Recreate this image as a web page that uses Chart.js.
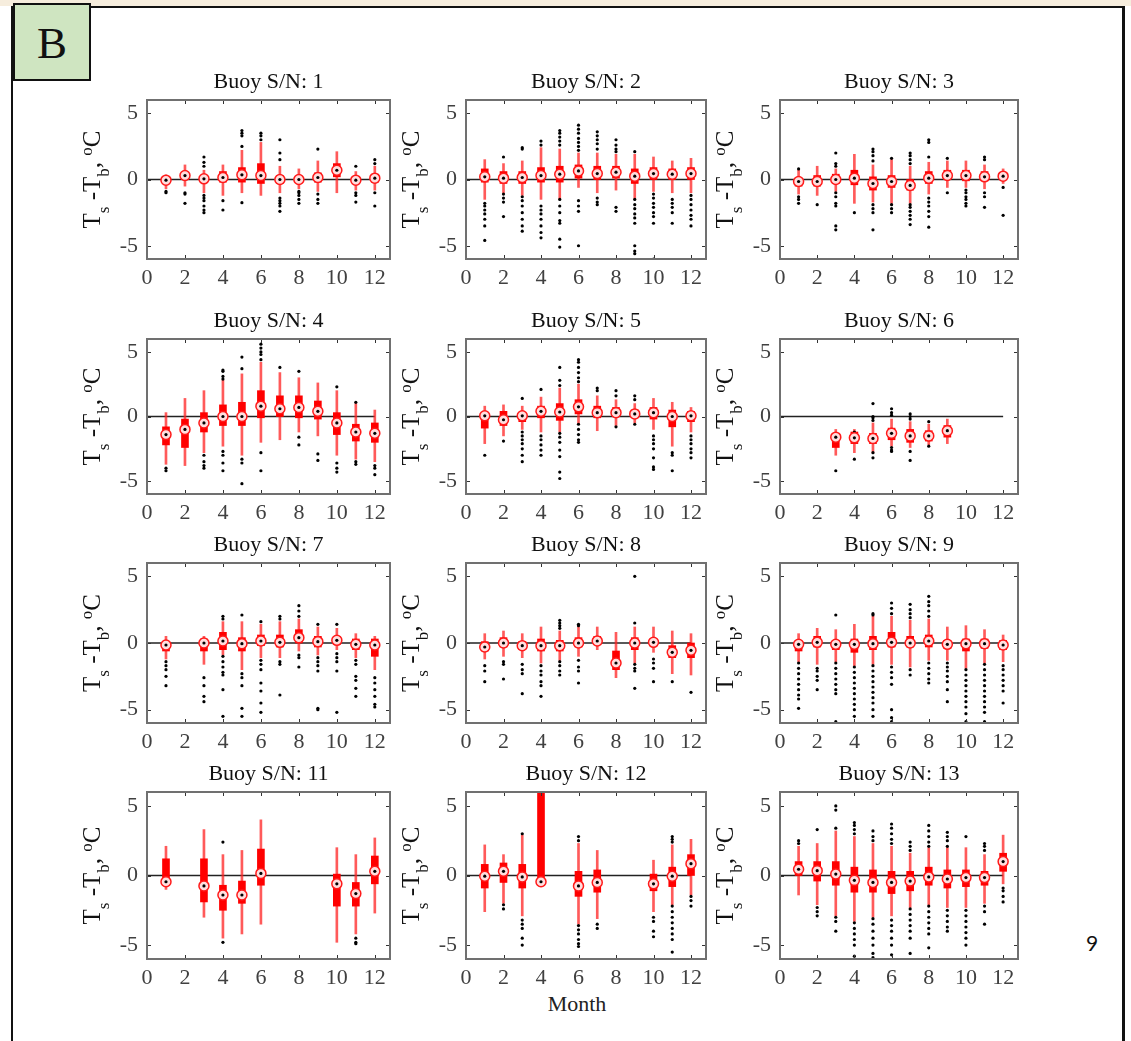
<!DOCTYPE html>
<html>
<head>
<meta charset="utf-8">
<script src="https://cdn.jsdelivr.net/npm/chart.js@4.4.1/dist/chart.umd.min.js"></script>
<style>
  body { margin: 0; width: 1131px; height: 1041px; position: relative; background: #fff; overflow: hidden; font-family: 'Liberation Serif', serif; }
  #topStrip { position: absolute; left: 0; top: 0; width: 1131px; height: 6px; background: #f6eddd; }
  #frame { position: absolute; left: 11px; top: 6px; width: 1114px; height: 1040px; border-top: 2px solid #111; border-left: 2px solid #111; border-right: 3px solid #111; box-sizing: border-box; }
  #panelTag { position: absolute; left: 13px; top: 3px; width: 78px; height: 78px; background: #cfe5c1; border: 2px solid #111; box-sizing: border-box; font-size: 45px; text-align: center; line-height: 76px; color: #111; }
  #monthLabel { position: absolute; left: 537px; top: 991px; width: 80px; text-align: center; font-size: 22px; color: #222; }
  #pageNo { position: absolute; left: 1086px; top: 930px; font-family: Lato, 'DejaVu Sans', sans-serif; font-size: 21px; color: #111; }
  canvas { position: absolute; }
</style>
</head>
<body>
<div id="topStrip"></div>
<div id="frame"></div>
<div id="panelTag">B</div>
<div id="monthLabel">Month</div>
<div id="pageNo">9</div>
<script>
// Monthly distribution of Ts - Tb per buoy (box = quartiles, line = whiskers, dots = outliers)
const buoyIds = [1, 2, 3, 4, 5, 6, 7, 8, 9, 11, 12, 13];
const months = [1, 2, 3, 4, 5, 6, 7, 8, 9, 10, 11, 12];
const xTicks = [0, 2, 4, 6, 8, 10, 12];
const yTicks = [-5, 0, 5];

const medians = [
  [-0.05, 0.3, 0.05, 0.15, 0.35, 0.3, 0.0, 0.0, 0.15, 0.7, -0.05, 0.1],
  [0.2, 0.1, 0.15, 0.3, 0.4, 0.65, 0.45, 0.55, 0.25, 0.45, 0.4, 0.45],
  [-0.15, -0.15, 0.0, 0.1, -0.3, -0.15, -0.45, 0.1, 0.3, 0.3, 0.2, 0.25],
  [-1.4, -1.0, -0.5, 0.0, 0.0, 0.8, 0.6, 0.7, 0.4, -0.5, -1.2, -1.3],
  [0.05, -0.25, 0.05, 0.4, 0.35, 0.75, 0.3, 0.3, 0.2, 0.3, 0.0, 0.05],
  [null, null, -1.6, -1.65, -1.7, -1.3, -1.5, -1.5, -1.1, null, null, null],
  [-0.15, null, 0.0, 0.15, -0.05, 0.15, 0.05, 0.4, 0.1, 0.2, -0.1, -0.15],
  [-0.3, 0.0, -0.2, -0.2, -0.2, 0.0, 0.15, -1.5, 0.0, 0.05, -0.7, -0.55],
  [-0.1, 0.05, -0.1, -0.1, -0.05, 0.05, 0.0, 0.15, -0.1, -0.05, -0.05, -0.15],
  [-0.45, null, -0.75, -1.4, -1.4, 0.15, null, null, null, -0.6, -1.3, 0.3],
  [-0.05, 0.3, -0.1, -0.45, null, -0.75, -0.5, null, null, -0.6, -0.05, 0.85],
  [0.45, 0.35, 0.1, -0.35, -0.5, -0.5, -0.4, -0.1, -0.25, -0.15, -0.15, 1.0]
];

const lowerQuartiles = [
  [-0.25, 0.0, -0.2, -0.2, -0.2, -0.3, -0.3, -0.2, -0.2, 0.2, -0.3, -0.2],
  [-0.2, -0.3, -0.3, -0.2, -0.2, 0.1, 0.0, 0.1, -0.3, 0.0, 0.0, 0.0],
  [-0.5, -0.5, -0.3, -0.4, -0.8, -0.6, -0.8, -0.3, 0.0, -0.1, -0.1, 0.0],
  [-2.2, -2.4, -1.2, -0.7, -0.7, -0.1, 0.0, -0.1, -0.2, -1.4, -1.9, -2.0],
  [-0.9, -0.7, -0.4, -0.1, -0.3, 0.2, -0.1, 0.0, -0.1, -0.2, -0.8, -0.4],
  [null, null, -2.4, -2.1, -2.1, -1.8, -2.0, -1.9, -1.6, null, null, null],
  [-0.6, null, -0.6, -0.5, -0.6, -0.2, -0.3, 0.0, -0.3, -0.1, -0.5, -1.0],
  [-0.6, -0.3, -0.5, -0.6, -0.6, -0.3, -0.1, -2.0, -0.5, -0.2, -1.1, -1.1],
  [-0.6, -0.3, -0.5, -0.7, -0.5, -0.3, -0.3, -0.3, -0.4, -0.6, -0.4, -0.5],
  [-0.7, null, -1.9, -2.5, -2.0, -0.7, null, null, null, -2.2, -2.2, -0.6],
  [-0.9, -0.5, -0.9, -0.7, null, -1.5, -1.2, null, null, -1.1, -0.8, 0.0],
  [0.0, -0.4, -0.7, -1.2, -1.2, -1.3, -1.1, -0.7, -0.9, -0.8, -0.7, 0.3]
];

const upperQuartiles = [
  [0.15, 0.5, 0.3, 0.6, 0.9, 1.2, 0.3, 0.2, 0.5, 1.2, 0.2, 0.4],
  [0.8, 0.6, 0.6, 0.9, 1.0, 1.1, 1.0, 1.0, 0.8, 0.9, 0.8, 0.9],
  [0.1, 0.3, 0.4, 0.7, 0.2, 0.3, 0.0, 0.6, 0.7, 0.7, 0.6, 0.5],
  [-0.8, -0.2, 0.3, 0.9, 1.1, 2.0, 1.6, 1.6, 1.2, 0.3, -0.6, -0.5],
  [0.3, 0.4, 0.3, 0.8, 1.0, 1.3, 0.8, 0.7, 0.5, 0.7, 0.5, 0.4],
  [null, null, -1.4, -1.2, -1.3, -0.9, -1.0, -1.1, -0.7, null, null, null],
  [0.1, null, 0.3, 0.8, 0.4, 0.6, 0.6, 1.0, 0.5, 0.5, 0.3, 0.3],
  [0.1, 0.4, 0.1, 0.3, 0.2, 0.4, 0.5, -0.6, 0.4, 0.3, -0.2, 0.0],
  [0.1, 0.5, 0.2, 0.3, 0.5, 0.8, 0.5, 0.6, 0.2, 0.3, 0.3, 0.2],
  [1.2, null, 1.2, -0.7, -0.4, 1.9, null, null, null, 0.1, -0.5, 1.4],
  [0.8, 0.9, 0.8, 7.0, null, 0.3, 0.4, null, null, 0.1, 0.6, 1.5],
  [1.0, 1.0, 1.0, 0.6, 0.4, 0.3, 0.3, 0.6, 0.4, 0.4, 0.3, 1.6]
];

const whiskerLows = [
  [-0.7, -0.5, -1.0, -1.2, -1.0, -1.2, -1.0, -0.7, -0.9, -1.0, -0.8, -0.8],
  [-1.5, -1.0, -1.2, -1.5, -1.5, -0.6, -1.0, -0.8, -1.5, -0.9, -1.0, -1.0],
  [-1.1, -1.2, -0.9, -1.8, -1.7, -1.8, -1.8, -1.1, -0.6, -0.6, -0.7, -0.3],
  [-3.7, -3.8, -2.8, -2.3, -3.0, -2.0, -1.8, -1.2, -1.5, -3.0, -3.3, -3.5],
  [-2.1, -1.5, -1.0, -1.2, -1.2, -0.6, -1.1, -0.7, -0.5, -1.0, -2.3, -1.2],
  [null, null, -3.0, -2.8, -2.8, -2.3, -2.4, -2.2, -2.1, null, null, null],
  [-1.2, null, -1.6, -0.9, -2.0, -1.1, -1.1, -0.6, -0.9, -0.5, -1.1, -2.0],
  [-1.2, -1.0, -1.1, -1.5, -1.3, -1.0, -0.5, -2.6, -1.5, -0.7, -2.3, -2.4],
  [-1.4, -1.6, -1.4, -1.7, -1.6, -1.6, -1.8, -1.3, -1.3, -1.9, -1.5, -1.4],
  [-1.0, null, -3.0, -4.5, -4.2, -3.5, null, null, null, -4.8, -4.2, -2.7],
  [-2.6, -2.0, -2.9, -0.7, null, -3.5, -3.1, null, null, -2.6, -2.1, -1.4],
  [-1.4, -2.1, -2.9, -3.3, -3.0, -2.9, -2.3, -2.1, -2.3, -2.3, -2.0, -0.6]
];

const whiskerHighs = [
  [0.35, 1.1, 0.7, 1.1, 2.2, 2.8, 1.0, 0.8, 1.4, 2.1, 0.6, 1.0],
  [1.5, 1.2, 1.4, 2.4, 2.3, 2.0, 2.0, 1.9, 1.9, 1.7, 1.4, 1.6],
  [0.7, 1.0, 0.8, 1.9, 1.1, 1.5, 1.0, 1.3, 1.4, 1.4, 1.1, 0.8],
  [0.3, 1.4, 2.0, 2.8, 3.3, 4.2, 3.4, 3.0, 2.6, 2.0, 1.0, 0.5],
  [0.8, 0.9, 0.8, 1.5, 2.2, 2.5, 1.6, 1.3, 1.0, 1.4, 1.1, 0.7],
  [null, null, -1.0, -1.0, -0.5, -0.2, -0.4, -0.6, -0.2, null, null, null],
  [0.5, null, 0.5, 1.6, 1.6, 1.4, 1.6, 1.8, 1.2, 1.1, 0.7, 0.5],
  [0.7, 0.9, 0.7, 1.2, 0.9, 1.2, 1.2, 0.8, 1.2, 1.2, 0.9, 0.7],
  [0.7, 1.1, 1.0, 1.4, 2.0, 2.0, 1.7, 1.8, 1.2, 1.3, 1.0, 0.6],
  [2.1, null, 3.3, 1.5, 1.8, 4.0, null, null, null, 2.0, 1.5, 2.7],
  [2.2, 1.5, 2.9, 7.0, null, 2.3, 1.8, null, null, 1.1, 2.2, 2.6],
  [2.1, 2.3, 3.2, 2.8, 2.3, 2.1, 1.6, 2.0, 2.0, 2.0, 1.5, 2.9]
];

const outliers = [
  [[-0.9, -1.0], [-1.0, -1.1, -1.8], [1.0, 1.3, 1.7, -1.2, -1.4, -1.6, -2.0, -2.3, -2.5], [-1.6, -2.3],
   [2.5, 3.3, 3.5, 3.7, -1.75], [3.0, 3.3, 3.5], [1.5, 2.0, 3.0, -1.4, -1.6, -1.8, -2.0, -2.4], [-0.9, -1.0, -1.2, -1.5, -1.8],
   [2.3, -1.1, -1.5, -1.8], [], [1.0, -1.0, -1.2, -1.7], [1.2, 1.5, -1.0, -2.0]],
  [[-1.8, -2.0, -2.3, -2.6, -3.0, -3.5, -4.6], [1.7, -1.1, -1.4, -1.7, -2.8], [2.3, 2.4, -1.3, -1.6, -2.0, -2.5, -3.0, -3.5, -3.9],
   [2.6, 2.9, -2.0, -2.3, -2.6, -3.0, -3.5, -4.0, -4.4], [2.6, 2.9, 3.2, 3.5, 3.7, -1.5, -2.0, -2.5, -3.1, -3.3, -4.5, -5.1],
   [2.2, 2.5, 2.8, 3.1, 3.5, 3.8, 4.1, -1.6, -2.0, -2.4, -5.0], [2.3, 2.7, 3.0, 3.3, 3.6, -1.4, -1.7, -1.9],
   [2.1, 2.3, 2.6, 3.0, -2.1, -2.4], [2.1, -1.5, -1.9, -2.2, -2.6, -2.9, -3.3, -5.0, -5.4, -5.6],
   [-1.1, -1.4, -1.8, -2.1, -2.5, -2.8, -3.3, -6.0], [-1.5, -1.8, -2.1, -2.5, -3.3], [-1.2, -1.5, -1.9, -2.3, -2.7, -3.0, -3.5]],
  [[0.8, -1.3, -1.5, -1.8], [-1.9], [1.0, 1.2, 2.0, -1.0, -1.3, -1.8, -2.0, -3.5, -3.8], [-2.5],
   [1.4, 1.8, 2.1, 2.3, -1.9, -2.2, -2.5, -3.8], [1.6, -1.9, -2.2, -2.5], [1.2, 1.5, 1.8, 2.0, -1.9, -2.1, -2.4, -2.7, -3.0, -3.4],
   [1.7, 2.8, 3.0, -1.4, -1.7, -2.0, -2.4, -2.8, -3.6], [1.6, -1.0], [-0.8, -1.0, -1.3, -1.5, -1.8, -2.0],
   [1.5, 1.7, -1.0, -1.3, -2.1], [-0.6, -2.7]],
  [[-4.0, -4.2], [], [-3.0, -3.5, -3.8, -4.0], [2.9, 3.1, 3.5, 3.6, -2.7, -3.0, -3.6, -4.2], [3.7, 4.6, -3.3, -3.6, -5.2],
   [4.4, 4.8, 5.0, 5.3, 5.6, -2.8, -4.2], [3.8], [3.5, -1.6, -2.2], [-2.9, -3.4], [2.3, -3.6, -4.0, -4.3], [1.1, -3.5, -3.7],
   [-3.8, -4.0, -4.5]],
  [[-3.0], [-1.9], [1.4, -1.2, -1.5, -1.8, -2.1, -2.5, -3.0, -3.5], [2.1, -1.5, -1.8, -2.2, -2.6, -3.0],
   [2.4, 2.8, 3.8, -1.3, -1.6, -2.0, -2.6, -3.1, -4.3, -4.8], [2.7, 3.0, 3.4, 3.8, 4.2, 4.4, -0.6, -1.0, -1.4, -1.8, -2.0],
   [2.0, 2.2], [1.6, 2.0, -0.8], [1.3, 1.6, -0.6], [-1.5, -1.8, -2.1, -2.5, -3.2, -3.9, -4.1], [-2.8, -3.0, -4.2],
   [-1.5, -1.8, -2.1, -2.5, -2.8, -3.2]],
  [[], [], [-4.2], [-1.2, -1.4, -3.3], [-0.3, -0.1, 0.0, 1.0, -2.8, -3.2], [0.1, 0.3, 0.6, -2.4, -2.6, -2.7],
   [-0.2, 0.0, 0.2, -2.7, -3.4], [-0.4, -2.3], [], [], [], []],
  [[-1.4, -1.7, -2.0, -2.5, -3.2], [], [-2.6, -3.2, -4.0, -4.4], [1.8, 2.0, -1.0, -1.4, -1.8, -2.2, -2.4, -3.5, -5.5],
   [2.1, -2.3, -2.6, -3.2, -4.9, -5.5], [1.6, -1.3, -1.6, -2.0, -3.0, -3.6, -4.5, -5.2], [1.8, 2.0, -1.4, -1.6, -3.9],
   [2.0, 2.4, 2.8, -0.9, -1.1, -1.8], [1.4, -1.1, -1.4, -1.7, -2.1, -4.9, -5.0], [1.4, -0.8, -1.1, -1.4, -2.1, -5.2],
   [-1.3, -1.6, -2.5, -2.8, -3.4, -4.0], [-2.6, -3.0, -3.5, -4.0, -4.6, -4.8]],
  [[-1.7, -2.1, -2.9], [-1.4, -1.6, -2.7], [-1.6, -2.0, -2.3, -3.8], [-1.7, -2.1, -2.4, -2.9, -3.2, -4.0],
   [1.1, 1.3, 1.5, 1.7, -1.4, -1.7, -2.1, -2.4], [1.3, 1.4, -1.3, -1.8, -2.1, -3.0], [], [],
   [1.5, 5.0, -1.6, -1.9, -2.1, -3.4], [-1.2, -1.5, -1.9, -2.9], [-2.9], [-3.7]],
  [[-1.5, -1.9, -2.3, -2.7, -3.1, -3.5, -3.9, -4.2, -4.9], [-1.9, -2.1, -2.5, -2.8, -3.5],
   [2.1, -1.5, -1.9, -2.3, -2.7, -3.1, -3.5, -3.8, -5.9], [-1.8, -2.2, -2.6, -3.0, -3.4, -3.8, -4.2, -4.6, -5.0, -5.5],
   [2.1, 2.2, -1.7, -2.1, -2.5, -2.9, -3.3, -3.7, -4.1, -4.5, -5.0, -5.5], [2.2, 2.6, 3.0, -1.8, -2.2, -2.6, -3.1, -5.0, -5.6, -5.9],
   [1.9, 2.2, 2.5, 2.9, -2.0, -2.4], [2.0, 2.4, 2.8, 3.1, 3.5, -1.5, -1.9, -2.3, -2.7, -3.0],
   [-1.5, -1.8, -2.1, -2.5, -2.9, -3.5, -4.4], [-2.0, -2.4, -2.8, -3.2, -3.6, -4.0, -4.4, -4.8, -5.3, -5.9],
   [-1.6, -2.0, -2.4, -2.8, -3.2, -3.6, -4.0, -4.4, -4.8, -5.2, -5.9], [-1.7, -2.0, -2.4, -2.8, -3.2, -3.6, -4.5]],
  [[], [], [], [2.4, -4.8], [], [], [], [], [], [], [-4.5, -4.8, -4.9], []],
  [[], [-2.1, -2.4], [3.0, -3.2, -3.5, -3.8, -4.5, -5.0], [], [], [2.5, 2.8, -3.6, -3.9, -4.2, -4.6, -4.9, -5.1],
   [-3.5, -3.8], [], [], [-3.0, -3.3, -4.0, -4.4], [2.4, 2.6, 2.8, -2.2, -2.6, -3.0, -3.4, -3.8, -4.2, -4.6, -5.5],
   [-1.5, -1.8, -2.2]],
  [[2.3, 2.5], [3.3, -2.3, -2.6, -2.9], [3.4, 4.7, 5.0, -3.0, -3.3, -4.0],
   [3.0, 3.3, 3.6, 3.8, -3.4, -3.8, -4.2, -4.6, -5.0, -5.8], [2.5, 2.8, 3.2, -3.1, -3.5, -4.0, -4.5, -5.0, -5.6, -5.9],
   [2.3, 2.6, 3.0, 3.4, 3.7, -3.2, -3.6, -4.0, -4.5, -5.0, -5.7], [1.8, 2.1, 2.4, -2.4, -2.8, -3.2, -3.6, -4.0, -4.5, -5.6],
   [2.1, 2.4, 2.8, 3.2, 3.6, -2.2, -2.6, -3.0, -3.4, -3.8, -4.2, -5.2], [2.1, 2.5, 2.8, 3.1, -2.5, -2.9, -3.3, -3.7, -4.0],
   [2.8, -2.5, -2.9, -3.3, -3.7, -4.1, -4.5, -5.0], [1.8, 2.1, 2.3, -2.2, -2.6, -3.5], [-0.9, -1.1, -1.5, -1.9]]
];

// panel placement on the page (plot area of each small chart)
const colLeft = [147, 466, 780];
const colWidth = [243, 240, 238];
const rowTop = [100, 339, 563, 792];
const rowHeight = [159, 155, 160, 167];
const PAD_L = 80, PAD_T = 36, PAD_R = 12, AXIS_W = 50, AXIS_H = 40;

const SERIF = '"Liberation Serif", "Times New Roman", serif';

// y-axis title pieces: text, baseline shift, font size
const yLabelParts = [
  ['T', 0, 25], ['s', 9, 17], [' -T', 0, 25], ['b', 9, 17], [', ', 0, 25], ['o', -8, 17], ['C', 0, 25]
];

function drawYLabel(ctx, x, y) {
  ctx.save();
  ctx.translate(x, y);
  ctx.rotate(-Math.PI / 2);
  ctx.fillStyle = '#111';
  ctx.textBaseline = 'alphabetic';
  ctx.textAlign = 'left';
  let total = 0;
  yLabelParts.forEach(([t, , s]) => { ctx.font = `${s}px ${SERIF}`; total += ctx.measureText(t).width; });
  let pos = -total / 2;
  yLabelParts.forEach(([t, shift, s]) => {
    ctx.font = `${s}px ${SERIF}`;
    ctx.fillText(t, pos, shift);
    pos += ctx.measureText(t).width;
  });
  ctx.restore();
}

const panelFrame = {
  id: 'panelFrame',
  afterDatasetsDraw(chart, args, opts) {
    const { ctx, chartArea: a, scales: { x, y } } = chart;
    ctx.save();
    ctx.strokeStyle = '#333';
    ctx.lineWidth = 1;
    ctx.beginPath();
    xTicks.forEach(v => {
      const px = Math.round(x.getPixelForValue(v)) + 0.5;
      ctx.moveTo(px, a.bottom); ctx.lineTo(px, a.bottom - 4);
      ctx.moveTo(px, a.top); ctx.lineTo(px, a.top + 4);
    });
    yTicks.forEach(v => {
      const py = Math.round(y.getPixelForValue(v)) + 0.5;
      ctx.moveTo(a.left, py); ctx.lineTo(a.left + 4, py);
      ctx.moveTo(a.right, py); ctx.lineTo(a.right - 4, py);
    });
    ctx.stroke();
    ctx.strokeStyle = '#707070';
    ctx.lineWidth = 2;
    ctx.strokeRect(a.left, a.top, a.right - a.left, a.bottom - a.top);

    ctx.fillStyle = '#111';
    ctx.font = `22px ${SERIF}`;
    ctx.textAlign = 'center';
    ctx.textBaseline = 'middle';
    ctx.fillText(opts.title, (a.left + a.right) / 2, a.top - 18);

    drawYLabel(ctx, a.left - 47, (a.top + a.bottom) / 2);
    ctx.restore();
  }
};

function present(p) {
  return months.map((m, i) => i).filter(i => medians[p][i] !== null);
}

buoyIds.forEach((id, p) => {
  const row = Math.floor(p / 3), col = p % 3;
  const w = PAD_L + colWidth[col] + PAD_R;
  const h = PAD_T + rowHeight[row] + AXIS_H;
  const canvas = document.createElement('canvas');
  canvas.width = w;
  canvas.height = h;
  canvas.style.left = (colLeft[col] - PAD_L) + 'px';
  canvas.style.top = (rowTop[row] - PAD_T) + 'px';
  canvas.style.width = w + 'px';
  canvas.style.height = h + 'px';
  document.body.appendChild(canvas);

  const idx = present(p);
  const whiskers = idx.map(i => ({ x: months[i], y: [whiskerLows[p][i], whiskerHighs[p][i]] }));
  const boxes = idx.map(i => ({ x: months[i], y: [lowerQuartiles[p][i], upperQuartiles[p][i]] }));
  const mids = idx.map(i => ({ x: months[i], y: medians[p][i] }));
  const dots = [];
  outliers[p].forEach((list, i) => list.forEach(v => dots.push({ x: months[i], y: v })));

  new Chart(canvas, {
    type: 'bar',
    data: {
      datasets: [
        { type: 'line', data: [{ x: 0, y: 0 }, { x: 12, y: 0 }], borderColor: '#222', borderWidth: 1.5,
          pointRadius: 0, order: 10 },
        { data: whiskers, backgroundColor: 'rgba(255, 35, 35, 0.75)', barThickness: 2, grouped: false,
          borderWidth: 0, order: 8 },
        { data: boxes, backgroundColor: '#ff0000', barThickness: 7, grouped: false, borderWidth: 0, order: 6 },
        { type: 'scatter', data: dots, pointRadius: 1.6, pointBackgroundColor: '#000', pointBorderWidth: 0, order: 4 },
        { type: 'scatter', data: mids, pointRadius: 5, pointBackgroundColor: '#ffdede', pointBorderColor: '#ff1a1a',
          pointBorderWidth: 1.5, order: 2 },
        { type: 'scatter', data: mids, pointRadius: 1.6, pointBackgroundColor: '#000', pointBorderWidth: 0, order: 0 }
      ]
    },
    options: {
      responsive: false,
      animation: false,
      events: [],
      layout: { padding: { left: PAD_L - AXIS_W, top: PAD_T, right: PAD_R, bottom: 0 } },
      plugins: { legend: { display: false }, tooltip: { enabled: false }, panelFrame: { title: 'Buoy S/N: ' + id } },
      scales: {
        x: {
          type: 'linear', min: 0, max: 12.8, offset: false,
          grid: { display: false, drawTicks: false },
          border: { display: false },
          afterBuildTicks: s => { s.ticks = xTicks.map(v => ({ value: v })); },
          afterFit: s => { s.height = AXIS_H; },
          ticks: { font: { family: SERIF, size: 22 }, color: '#404040', padding: 6, maxRotation: 0 }
        },
        y: {
          min: -6, max: 6,
          grid: { display: false, drawTicks: false },
          border: { display: false },
          afterBuildTicks: s => { s.ticks = yTicks.map(v => ({ value: v })); },
          afterFit: s => { s.width = AXIS_W; },
          ticks: { font: { family: SERIF, size: 22 }, color: '#404040', padding: 9 }
        }
      }
    },
    plugins: [panelFrame]
  });
});
</script>
</body>
</html>
